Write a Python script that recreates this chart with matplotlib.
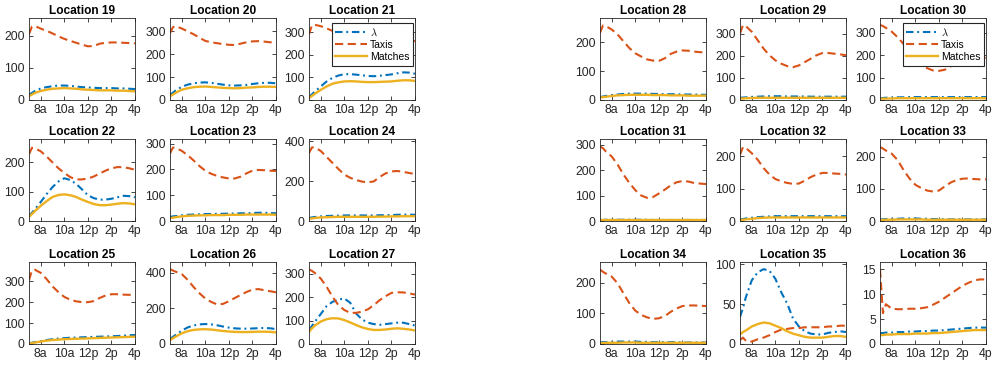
import matplotlib
matplotlib.use('Agg')
import matplotlib.pyplot as plt
from matplotlib.ticker import MultipleLocator

plt.rcParams['font.family'] = ['Liberation Sans', 'DejaVu Sans']
plt.rcParams['mathtext.fontset'] = 'cm'

# ---------------- data ----------------
hours = [7.0, 7.25, 7.5, 8.0, 8.5, 9.0, 9.5, 10.0, 10.5, 11.0,
         11.5, 12.0, 12.5, 13.0, 13.5, 14.0, 14.5, 15.0, 15.5, 16.0]
xtick_pos = [8, 10, 12, 14, 16]
xtick_labels = ['8a', '10a', '12p', '2p', '4p']
locations = list(range(19, 37))
series_names = ['$\\lambda$', 'Taxis', 'Matches']

taxis_19 = [205, 228, 230, 222, 215, 207, 198, 190, 184, 178, 172, 167, 168, 175, 178, 179, 179, 178, 177, 176]
lam_19 = [16, 22, 28, 36, 40, 43, 45, 45, 44, 42, 40, 39, 38, 37, 37, 37, 36, 36, 35, 34]
match_19 = [12, 17, 22, 28, 32, 35, 36, 37, 36, 35, 33, 32, 31, 30, 30, 30, 29, 29, 28, 27]

taxis_20 = [292, 318, 322, 312, 300, 287, 272, 258, 252, 248, 244, 241, 240, 246, 252, 256, 257, 255, 252, 250]
lam_20 = [22, 32, 42, 58, 67, 73, 76, 77, 75, 71, 67, 64, 63, 64, 66, 70, 73, 75, 75, 73]
match_20 = [16, 24, 32, 45, 51, 56, 58, 59, 57, 55, 53, 52, 51, 52, 54, 55, 57, 58, 58, 57]

taxis_21 = [290, 330, 332, 326, 316, 305, 292, 282, 275, 268, 263, 260, 260, 262, 265, 267, 266, 264, 262, 260]
lam_21 = [12, 25, 38, 60, 82, 98, 108, 114, 114, 112, 109, 106, 105, 107, 110, 113, 118, 122, 121, 116]
match_21 = [9, 18, 28, 45, 60, 72, 78, 82, 83, 82, 80, 79, 79, 80, 81, 82, 85, 87, 87, 84]

taxis_22 = [228, 250, 248, 238, 220, 200, 180, 164, 150, 142, 142, 145, 152, 162, 172, 180, 184, 184, 180, 175]
lam_22 = [16, 28, 40, 65, 92, 116, 135, 146, 140, 127, 108, 88, 78, 73, 73, 76, 81, 86, 85, 81]
match_22 = [14, 24, 34, 52, 68, 82, 89, 91, 88, 82, 73, 65, 58, 54, 54, 56, 59, 61, 60, 57]

taxis_23 = [262, 285, 283, 272, 255, 235, 213, 195, 183, 175, 169, 165, 165, 172, 185, 195, 198, 197, 195, 194]
lam_23 = [16, 18, 19, 22, 24, 25, 26, 27, 27, 28, 28, 29, 29, 30, 30, 31, 32, 32, 31, 30]
match_23 = [11, 13, 15, 18, 20, 21, 22, 22, 23, 23, 23, 24, 24, 24, 25, 25, 25, 25, 25, 24]

taxis_24 = [340, 368, 368, 350, 320, 290, 260, 232, 216, 205, 197, 193, 198, 220, 238, 248, 250, 246, 240, 235]
lam_24 = [15, 18, 20, 23, 25, 26, 27, 28, 28, 28, 28, 28, 28, 29, 29, 30, 31, 32, 32, 31]
match_24 = [11, 13, 15, 18, 19, 20, 21, 21, 21, 21, 21, 21, 21, 22, 22, 23, 23, 24, 24, 24]

taxis_25 = [305, 352, 355, 340, 310, 275, 248, 225, 212, 204, 200, 200, 205, 220, 232, 238, 238, 236, 235, 234]
lam_25 = [3, 6, 9, 14, 19, 23, 26, 28, 30, 31, 32, 33, 34, 35, 36, 37, 38, 40, 42, 43]
match_25 = [2, 4, 7, 12, 16, 19, 21, 23, 24, 25, 26, 27, 28, 29, 30, 31, 32, 33, 34, 35]

taxis_26 = [420, 412, 405, 392, 360, 320, 285, 255, 236, 222, 225, 240, 258, 275, 292, 305, 308, 302, 296, 290]
lam_26 = [28, 40, 52, 75, 93, 104, 110, 112, 110, 105, 98, 92, 88, 86, 86, 87, 89, 90, 88, 84]
match_26 = [22, 32, 42, 60, 72, 79, 82, 83, 81, 77, 73, 70, 68, 67, 67, 68, 69, 69, 68, 65]

taxis_27 = [318, 312, 303, 279, 244, 201, 166, 145, 133, 133, 138, 148, 166, 187, 204, 218, 221, 220, 216, 211]
lam_27 = [60, 77, 95, 128, 162, 180, 190, 194, 176, 130, 105, 91, 85, 82, 85, 88, 91, 91, 85, 79]
match_27 = [52, 67, 79, 96, 106, 110, 109, 102, 92, 81, 71, 64, 60, 60, 62, 65, 67, 65, 62, 58]

taxis_28 = [232, 257, 255, 243, 226, 202, 179, 161, 150, 140, 136, 135, 144, 159, 167, 171, 170, 167, 165, 164]
lam_28 = [10, 12, 14, 17, 19, 21, 22, 22, 22, 22, 21, 21, 20, 20, 20, 19, 19, 19, 18, 18]
match_28 = [8, 10, 11, 14, 16, 17, 18, 18, 18, 18, 17, 17, 17, 16, 16, 16, 15, 15, 15, 15]

taxis_29 = [300, 338, 333, 308, 270, 232, 202, 179, 164, 153, 148, 156, 171, 186, 202, 212, 212, 209, 206, 202]
lam_29 = [10, 11, 12, 14, 15, 16, 17, 17, 17, 16, 16, 16, 16, 15, 15, 15, 15, 15, 15, 15]
match_29 = [6, 7, 8, 9, 10, 10, 10, 10, 10, 10, 10, 10, 10, 10, 10, 10, 10, 10, 10, 10]

taxis_30 = [335, 330, 322, 305, 280, 250, 215, 185, 160, 142, 132, 130, 135, 150, 168, 185, 193, 195, 192, 188]
lam_30 = [8, 9, 10, 11, 12, 12, 13, 13, 13, 13, 13, 13, 13, 13, 13, 13, 13, 13, 13, 13]
match_30 = [5, 6, 6, 7, 8, 8, 8, 8, 8, 8, 8, 8, 8, 8, 8, 8, 8, 8, 8, 8]

taxis_31 = [292, 286, 273, 253, 221, 182, 149, 121, 100, 91, 94, 108, 123, 140, 152, 157, 155, 149, 147, 145]
lam_31 = [4, 4, 5, 5, 5, 5, 5, 5, 5, 5, 4, 4, 4, 4, 4, 4, 4, 4, 4, 4]
match_31 = [3, 3, 3, 3, 3, 3, 3, 3, 3, 3, 3, 3, 3, 3, 3, 3, 3, 3, 3, 3]

taxis_32 = [205, 229, 226, 210, 190, 164, 144, 130, 123, 118, 115, 116, 125, 136, 144, 149, 149, 147, 146, 144]
lam_32 = [5, 6, 8, 10, 12, 13, 14, 15, 15, 15, 15, 15, 15, 15, 15, 15, 15, 15, 15, 15]
match_32 = [3, 4, 5, 7, 9, 10, 11, 11, 11, 11, 11, 11, 11, 11, 11, 11, 11, 11, 11, 11]

taxis_33 = [231, 226, 220, 210, 190, 159, 133, 113, 103, 95, 92, 95, 108, 120, 128, 132, 133, 131, 130, 130]
lam_33 = [5, 5, 6, 7, 7, 8, 8, 8, 7, 7, 6, 6, 5, 5, 5, 5, 5, 5, 5, 5]
match_33 = [3, 3, 4, 4, 5, 5, 5, 5, 5, 4, 4, 4, 4, 4, 4, 4, 4, 4, 4, 4]

taxis_34 = [243, 236, 230, 220, 198, 165, 133, 109, 95, 87, 82, 84, 91, 105, 116, 124, 126, 126, 125, 124]
lam_34 = [5, 6, 6, 7, 8, 8, 8, 8, 7, 7, 6, 6, 6, 6, 6, 5, 5, 5, 5, 5]
match_34 = [3, 3, 4, 4, 4, 5, 5, 5, 4, 4, 4, 4, 4, 4, 4, 4, 4, 4, 4, 4]

taxis_35 = [5, 8, 4, 3, 6, 8, 11, 15, 18, 19, 20, 20, 21, 21, 21, 21, 22, 22, 23, 23]
lam_35 = [34, 45, 59, 80, 90, 94, 92, 82, 65, 51, 32, 22, 16, 13, 12, 12, 14, 15, 16, 15]
match_35 = [12, 15, 17, 22, 25, 27, 26, 23, 20, 16, 13, 11, 9, 8, 8, 8, 9, 10, 10, 9]

taxis_36 = [15, 6.2, 8.0, 7.1, 7.0, 7.0, 7.1, 7.1, 7.2, 7.4, 7.9, 8.5, 9.3, 10.1, 10.9, 11.7, 12.3, 12.8, 13.0, 13.0]
lam_36 = [2.2, 2.2, 2.3, 2.3, 2.4, 2.4, 2.5, 2.5, 2.6, 2.6, 2.7, 2.7, 2.8, 2.9, 3.0, 3.1, 3.2, 3.3, 3.3, 3.3]
match_36 = [1.8, 1.8, 1.9, 1.9, 2.0, 2.0, 2.0, 2.1, 2.1, 2.1, 2.2, 2.2, 2.3, 2.4, 2.5, 2.6, 2.7, 2.8, 2.8, 2.8]

# y-axis upper limits and tick steps
ytop = [255, 358, 362, 280, 318, 410, 392, 460, 350,
        283, 370, 366, 322, 254, 256, 268, 103, 16.5]
ystep = [100, 100, 100, 100, 100, 200, 100, 200, 100,
         100, 100, 100, 100, 100, 100, 100, 50, 5]
legend_locations = [21, 30]

g = globals()
lam = [g['lam_%d' % k] for k in locations]
taxis = [g['taxis_%d' % k] for k in locations]
match = [g['match_%d' % k] for k in locations]

# ---------------- figure ----------------
W, H = 993, 367
fig = plt.figure(figsize=(W / 100, H / 100), dpi=100)

col_left = [[29, 170, 309], [600, 740, 880]]
row_top = [18, 139, 262]
aw, ah = 106, 82

c_lam = '#0072BD'
c_taxi = '#D95319'
c_match = '#EDB120'
dark = '#262626'
lw = 1.5

for i, loc in enumerate(locations):
    grp, j = divmod(i, 9)
    r, c = divmod(j, 3)
    x0 = col_left[grp][c]
    y0 = row_top[r]
    ax = fig.add_axes([x0 / W, 1 - (y0 + ah) / H, aw / W, ah / H])

    l1, = ax.plot(hours, lam[i], color=c_lam, lw=lw, dashes=(3.6, 1.8, 0.9, 1.8),
                  label=series_names[0])
    l2, = ax.plot(hours, taxis[i], color=c_taxi, lw=lw, dashes=(3.9, 2.2),
                  label=series_names[1])
    l3, = ax.plot(hours, match[i], color=c_match, lw=lw + 0.2, label=series_names[2])

    ax.set_xlim(7, 16)
    ax.set_ylim(0, ytop[i])
    ax.set_xticks(xtick_pos)
    ax.set_xticklabels(xtick_labels)
    ax.yaxis.set_major_locator(MultipleLocator(ystep[i]))
    ax.tick_params(direction='in', top=True, right=True, length=3, width=0.6,
                   labelsize=8.8, colors=dark, pad=3)
    for sp in ax.spines.values():
        sp.set_color(dark)
        sp.set_linewidth(0.6)
    ax.set_title('Location %d' % loc, fontsize=8.6, fontweight='bold', pad=3)

    if loc in legend_locations:
        leg = ax.legend(handles=[l1, l2, l3], loc='upper right',
                        bbox_to_anchor=(0.985, 0.94), borderaxespad=0,
                        fontsize=7.5, handlelength=3.0, handletextpad=0.35,
                        labelspacing=0.2, borderpad=0.35, fancybox=False,
                        framealpha=1)
        leg.get_frame().set_edgecolor(dark)
        leg.get_frame().set_linewidth(0.8)

fig.savefig('out.png', dpi=100)
